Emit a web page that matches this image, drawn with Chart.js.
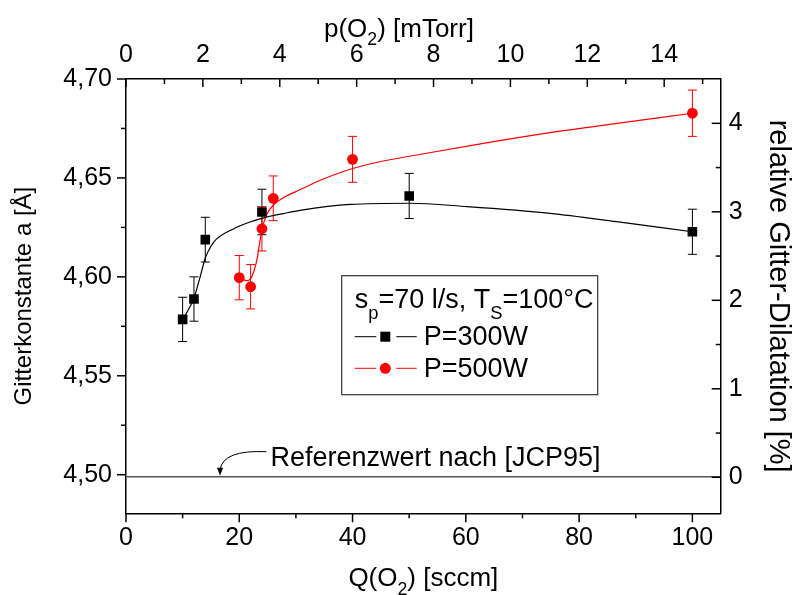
<!DOCTYPE html>
<html>
<head>
<meta charset="utf-8">
<title>Gitterkonstante vs. Q(O2)</title>
<script src="https://cdn.jsdelivr.net/npm/chart.js@4.4.1/dist/chart.umd.min.js"></script>
<style>
  html, body { margin: 0; padding: 0; background: #fff; }
  #wrap { width: 795px; height: 595px; }
</style>
</head>
<body>
<div id="wrap"><canvas id="chart" width="795" height="595"></canvas></div>
<script>
// measured points: Q(O2) in sccm, lattice constant a in Angstrom
const q300 = [10, 12, 14, 24, 50, 100];
const a300 = [4.5785, 4.5888, 4.6188, 4.6328, 4.6409, 4.6228];
const err300 = [0.0112, 0.0112, 0.0113, 0.0115, 0.0114, 0.0114];

const q500 = [20, 22, 24, 26, 40, 100];
const a500 = [4.5996, 4.5950, 4.6243, 4.6397, 4.6594, 4.6827];
const err500 = [0.0112, 0.0112, 0.0112, 0.0113, 0.0116, 0.0117];

// fit curves
const fitQ300 = [10, 12, 13.1, 14, 15, 16, 18.95, 21.9, 24.8, 27.8, 30.7, 39.6, 50, 60.2, 74.9, 86.6, 100];
const fitA300 = [4.5782, 4.5893, 4.6001, 4.6095, 4.6155, 4.6192, 4.6242, 4.6277, 4.6302, 4.6320, 4.6336, 4.6366, 4.6372, 4.6355, 4.6321, 4.6279, 4.6228];
const fitQ500 = [20, 21.3, 22.2, 23.1, 24, 24.8, 26, 27.8, 30.7, 34.3, 39.6, 45, 51.3, 63.1, 74.9, 86.7, 100];
const fitA500 = [4.5996, 4.5981, 4.6001, 4.6085, 4.6237, 4.6313, 4.6362, 4.6400, 4.6440, 4.6488, 4.6544, 4.6583, 4.6616, 4.6675, 4.6729, 4.6776, 4.6827];

// reference value [JCP95]
const refValue = 4.499;
const refQ = [0, 105];

// axis ticks
const qTicks = [0, 20, 40, 60, 80, 100];
const qMinor = [10, 30, 50, 70, 90];
const pTicks = [0, 2, 4, 6, 8, 10, 12, 14];
const pMinor = [1, 3, 5, 7, 9, 11, 13, 15];
const aTicks = [4.50, 4.55, 4.60, 4.65, 4.70];
const aMinor = [4.525, 4.575, 4.625, 4.675];
const dTicks = [0, 1, 2, 3, 4];
const dMinor = [0.5, 1.5, 2.5, 3.5];

const FONT = "'Liberation Sans', Arial, Helvetica, sans-serif";
Chart.defaults.font.family = FONT;
Chart.defaults.color = '#000';

function pts(xs, ys) {
    return xs.map((x, i) => ({x: x, y: ys[i]}));
}

function font(size) {
    return size + 'px ' + FONT;
}

// text with subscripts: parts = [[text, isSub], ...]
function richText(ctx, parts, x, y, size, align, drop) {
    const subSize = size * 0.68;
    const widths = parts.map(p => {
        ctx.font = font(p[1] ? subSize : size);
        return ctx.measureText(p[0]).width;
    });
    const total = widths.reduce((s, w) => s + w, 0);
    let cx = align === 'center' ? x - total / 2 : x;
    ctx.textAlign = 'left';
    ctx.textBaseline = 'alphabetic';
    parts.forEach((p, i) => {
        ctx.font = font(p[1] ? subSize : size);
        ctx.fillText(p[0], cx, p[1] ? y + size * drop : y);
        cx += widths[i];
    });
}

function tickMarks(ctx, scale, values, len, dir) {
    values.forEach(v => {
        const p = scale.getPixelForValue(v);
        ctx.beginPath();
        if (scale.isHorizontal()) {
            const y0 = scale.position === 'top' ? scale.bottom : scale.top;
            ctx.moveTo(p, y0);
            ctx.lineTo(p, y0 + dir * len);
        } else {
            const x0 = scale.position === 'left' ? scale.right : scale.left;
            ctx.moveTo(x0, p);
            ctx.lineTo(x0 + dir * len, p);
        }
        ctx.stroke();
    });
}

function errorBars(ctx, xs, ys, errs, sx, sy, color) {
    ctx.strokeStyle = color;
    ctx.lineWidth = 1;
    xs.forEach((q, i) => {
        const px = sx.getPixelForValue(q);
        const top = sy.getPixelForValue(ys[i] + errs[i]);
        const bot = sy.getPixelForValue(ys[i] - errs[i]);
        ctx.beginPath();
        ctx.moveTo(px, top); ctx.lineTo(px, bot);
        ctx.moveTo(px - 4.5, top); ctx.lineTo(px + 4.5, top);
        ctx.moveTo(px - 4.5, bot); ctx.lineTo(px + 4.5, bot);
        ctx.stroke();
    });
}

const figurePlugin = {
    id: 'figure',
    beforeDatasetsDraw(chart) {
        const ctx = chart.ctx;
        ctx.save();
        errorBars(ctx, q300, a300, err300, chart.scales.x, chart.scales.y, '#000');
        errorBars(ctx, q500, a500, err500, chart.scales.x, chart.scales.y, '#ff0000');
        ctx.restore();
    },
    afterDraw(chart) {
        const ctx = chart.ctx;
        const ca = chart.chartArea;
        const sx = chart.scales.x, sy = chart.scales.y;
        ctx.save();
        ctx.fillStyle = '#000';
        ctx.strokeStyle = '#000';
        ctx.lineWidth = 1.5;

        // tick marks: left/bottom outward, top/right inward
        tickMarks(ctx, sx, qTicks, 9, 1);
        tickMarks(ctx, sx, qMinor, 5, 1);
        tickMarks(ctx, chart.scales.x2, pTicks, 8, 1);
        tickMarks(ctx, chart.scales.x2, pMinor, 5, 1);
        tickMarks(ctx, sy, aTicks, 9, -1);
        tickMarks(ctx, sy, aMinor, 5, -1);
        tickMarks(ctx, chart.scales.y2, dTicks, 9, -1);
        tickMarks(ctx, chart.scales.y2, dMinor, 5, -1);

        // axis titles with subscripts
        richText(ctx, [['p(O', false], ['2', true], [') [mTorr]', false]], chart.scales.x2.getPixelForValue(7.1), 36.5, 26, 'center', 0.33);
        richText(ctx, [['Q(O', false], ['2', true], [') [sccm]', false]], (ca.left + ca.right) / 2, 586, 26, 'center', 0.33);

        // annotation for the reference value
        const tipX = sx.getPixelForValue(16.6);
        const tipY = sy.getPixelForValue(refValue) - 1;
        const txtX = sx.getPixelForValue(25.5);
        ctx.lineWidth = 1;
        ctx.beginPath();
        ctx.moveTo(txtX - 4, tipY - 24);
        ctx.quadraticCurveTo(tipX + 3, tipY - 26, tipX, tipY - 6);
        ctx.stroke();
        ctx.beginPath();
        ctx.moveTo(tipX, tipY);
        ctx.lineTo(tipX - 3, tipY - 8);
        ctx.lineTo(tipX + 3, tipY - 8);
        ctx.closePath();
        ctx.fill();
        ctx.font = font(27);
        ctx.textAlign = 'left';
        ctx.textBaseline = 'alphabetic';
        ctx.fillText('Referenzwert nach [JCP95]', txtX, tipY - 10);

        // legend box
        const lx = ca.left + 215.7, ly = ca.top + 196.7;
        ctx.lineWidth = 1.2;
        ctx.strokeStyle = '#333';
        ctx.strokeRect(lx, ly, 256, 119);
        richText(ctx, [['s', false], ['p', true], ['=70 l/s, T', false], ['S', true], ['=100°C', false]], lx + 13, ly + 32.6, 27, 'left', 0.38);

        const rows = [
            {y: ly + 61, color: '#000', label: 'P=300W', shape: 'rect'},
            {y: ly + 92.6, color: '#ff0000', label: 'P=500W', shape: 'circle'}
        ];
        rows.forEach(r => {
            const mx = lx + 43.6;
            ctx.strokeStyle = r.color;
            ctx.fillStyle = r.color;
            ctx.lineWidth = 1;
            ctx.beginPath();
            ctx.moveTo(lx + 13, r.y); ctx.lineTo(mx - 9, r.y);
            ctx.moveTo(mx + 11, r.y); ctx.lineTo(lx + 75, r.y);
            ctx.stroke();
            if (r.shape === 'rect') {
                ctx.fillRect(mx - 5, r.y - 5, 10, 10);
            } else {
                ctx.beginPath();
                ctx.arc(mx, r.y, 5.5, 0, Math.PI * 2);
                ctx.fill();
            }
            ctx.fillStyle = '#000';
            ctx.font = font(27);
            ctx.textAlign = 'left';
            ctx.textBaseline = 'middle';
            ctx.fillText(r.label, lx + 82, r.y + 1);
        });
        ctx.restore();
    }
};

const noGrid = {display: false, drawTicks: false};
const axisBorder = {display: true, color: '#000', width: 1.5};

const chart = new Chart(document.getElementById('chart').getContext('2d'), {
    type: 'scatter',
    data: {
        datasets: [
            {
                label: 'P=300W',
                data: pts(q300, a300),
                pointStyle: 'rect',
                pointRadius: 6.8,
                backgroundColor: '#000',
                borderColor: '#000',
                borderWidth: 0
            },
            {
                label: 'P=500W',
                data: pts(q500, a500),
                pointStyle: 'circle',
                pointRadius: 5.4,
                backgroundColor: '#ff0000',
                borderColor: '#ff0000',
                borderWidth: 0
            },
            {
                label: 'Fit 300W',
                data: pts(fitQ300, fitA300),
                showLine: true,
                pointRadius: 0,
                borderColor: '#000',
                borderWidth: 1.2,
                cubicInterpolationMode: 'monotone'
            },
            {
                label: 'Fit 500W',
                data: pts(fitQ500, fitA500),
                showLine: true,
                pointRadius: 0,
                borderColor: '#ff0000',
                borderWidth: 1.2,
                cubicInterpolationMode: 'monotone'
            },
            {
                label: 'Referenzwert',
                data: refQ.map(q => ({x: q, y: refValue})),
                showLine: true,
                pointRadius: 0,
                borderColor: '#555',
                borderWidth: 1.5
            }
        ]
    },
    options: {
        responsive: false,
        animation: false,
        layout: {padding: 0},
        plugins: {
            legend: {display: false},
            tooltip: {enabled: false}
        },
        scales: {
            x: {
                type: 'linear', position: 'bottom', min: 0, max: 105,
                grid: noGrid, border: axisBorder,
                ticks: {font: {size: 25}, padding: 10, autoSkip: false, maxRotation: 0},
                afterBuildTicks: s => { s.ticks = qTicks.map(v => ({value: v})); },
                afterFit: s => { s.height = 81.7; }
            },
            x2: {
                type: 'linear', position: 'top', min: 0, max: 15.47,
                grid: noGrid, border: axisBorder,
                ticks: {font: {size: 25}, padding: 9, autoSkip: false, maxRotation: 0},
                afterBuildTicks: s => { s.ticks = pTicks.map(v => ({value: v})); },
                afterFit: s => { s.height = 79; }
            },
            y: {
                type: 'linear', position: 'left', min: 4.4805, max: 4.70,
                grid: noGrid, border: axisBorder,
                ticks: {
                    font: {size: 25}, padding: 14, autoSkip: false,
                    callback: v => v.toFixed(2).replace('.', ',')
                },
                title: {display: true, text: 'Gitterkonstante a [Å]', font: {size: 24}, padding: {top: 10, bottom: 0}},
                afterBuildTicks: s => { s.ticks = aTicks.map(v => ({value: v})); },
                afterFit: s => { s.width = 126; }
            },
            y2: {
                type: 'linear', position: 'right', min: -0.407, max: 4.501,
                grid: noGrid, border: axisBorder,
                ticks: {font: {size: 25}, padding: 8, autoSkip: false},
                title: {display: true, text: 'relative Gitter-Dilatation [%]', font: {size: 29}, padding: {top: 0, bottom: 0}},
                afterBuildTicks: s => { s.ticks = dTicks.map(v => ({value: v})); },
                afterFit: s => { s.width = 74.3; }
            }
        }
    },
    plugins: [figurePlugin]
});
</script>
</body>
</html>
